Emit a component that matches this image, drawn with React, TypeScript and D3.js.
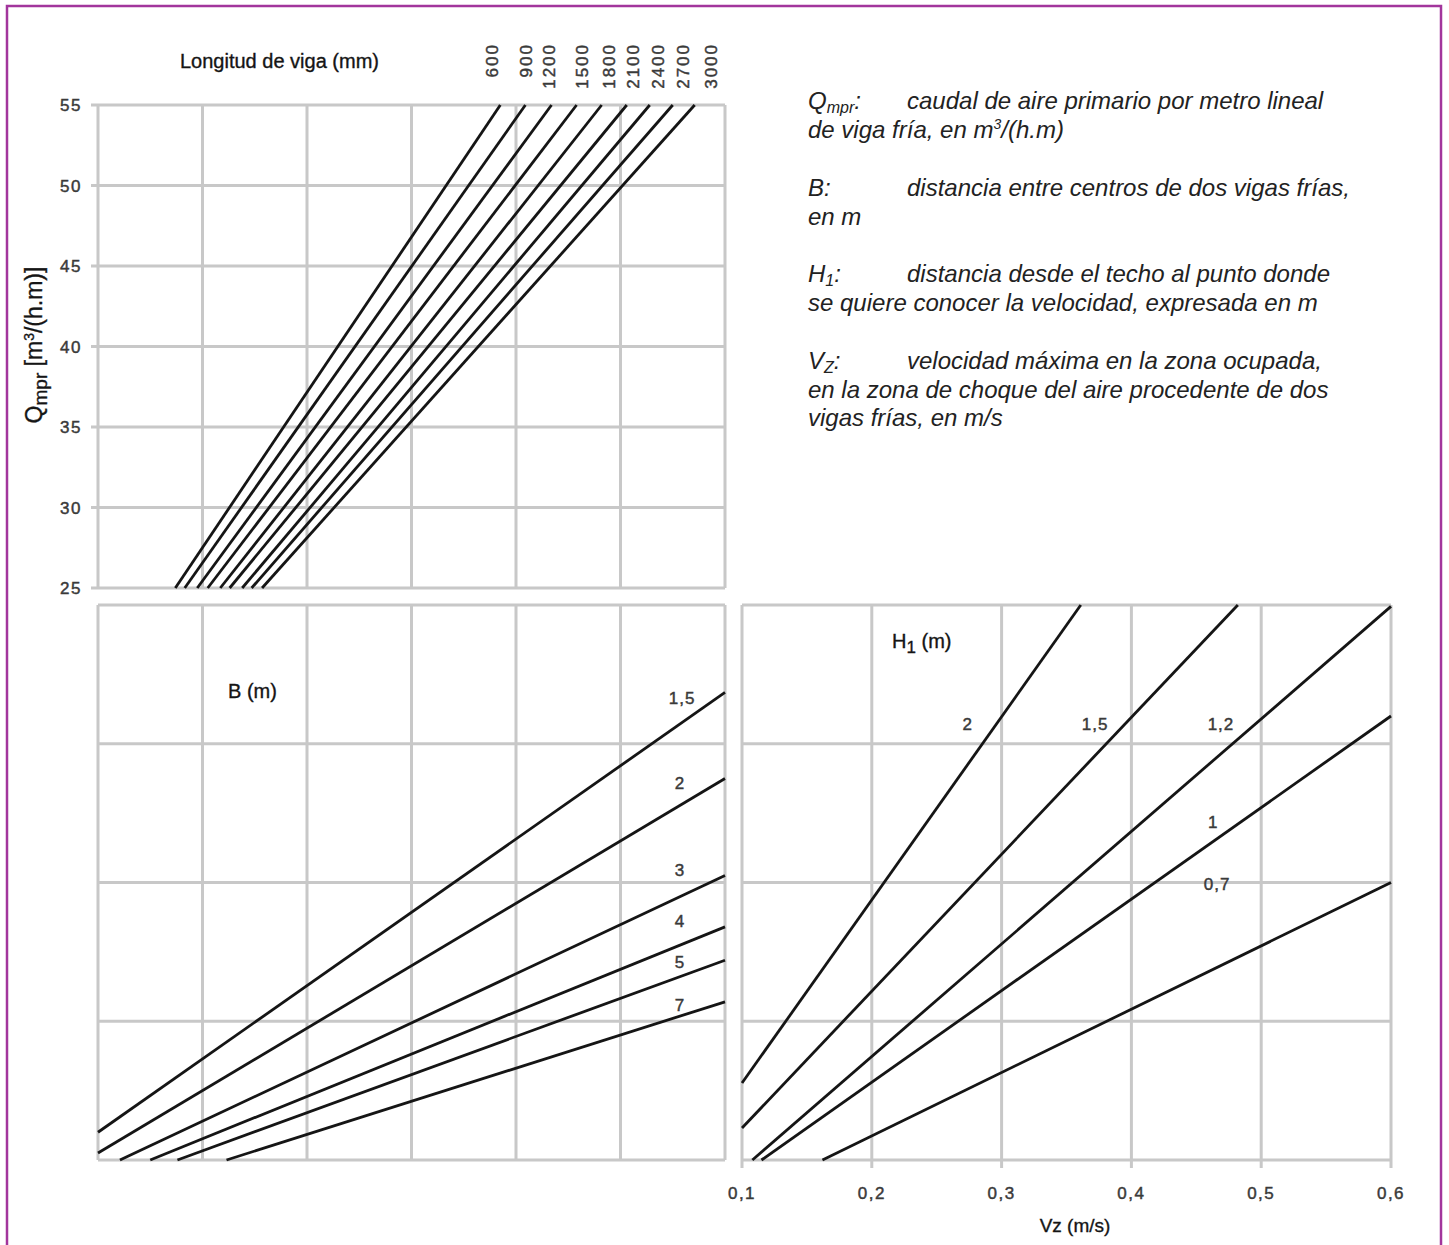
import React from 'react';
import * as d3 from 'd3';

// ---- Data ----
const beamLengths = ['600', '900', '1200', '1500', '1800', '2100', '2400', '2700', '3000'];
// x position (abstract grid units 0..6) of each beam-length line at Q = 25 and Q = 55
const lenXatQ25 = [0.74, 0.83, 0.95, 1.05, 1.17, 1.26, 1.38, 1.47, 1.57];
const lenXatQ55 = [3.85, 4.09, 4.34, 4.58, 4.82, 5.06, 5.28, 5.50, 5.71];
// where the rotated beam-length names sit (grid units)
const lenLabelX = [3.77, 4.10, 4.32, 4.63, 4.89, 5.12, 5.36, 5.60, 5.87];
const qTicks = [25, 30, 35, 40, 45, 50, 55];

const bNames = ['1,5', '2', '3', '4', '5', '7'];
const bStartX = [0, 0, 0.21, 0.5, 0.76, 1.23];
const bStartY = [0.2, 0.05, 0, 0, 0, 0];
const bEndX = [6, 6, 6, 6, 6, 6];
const bEndY = [3.37, 2.75, 2.05, 1.68, 1.44, 1.14];
const bLabelX = [5.59, 5.57, 5.57, 5.57, 5.57, 5.57];
const bLabelY = [3.33, 2.72, 2.09, 1.72, 1.43, 1.12];

const hNames = ['2', '1,5', '1,2', '1', '0,7'];
const hStartVz = [0.1, 0.1, 0.108, 0.115, 0.162];
const hStartY = [0.555, 0.23, 0, 0, 0];
const hEndVz = [0.361, 0.482, 0.6, 0.6, 0.6];
const hEndY = [4, 4, 3.99, 3.2, 2.0];
const hLabelVz = [0.274, 0.372, 0.469, 0.463, 0.466];
const hLabelY = [3.14, 3.14, 3.14, 2.44, 1.99];

const vzTicks = [0.1, 0.2, 0.3, 0.4, 0.5, 0.6];
const vzTickLabels = ['0,1', '0,2', '0,3', '0,4', '0,5', '0,6'];
const gridUnitsX = [0, 1, 2, 3, 4, 5, 6];
const gridUnitsY = [0, 1, 2, 3, 4];

const FONT = "'Liberation Sans', Arial, Helvetica, sans-serif";
const GRID = '#c8c8c8';
const INK = '#151515';
const NUM = '#3a3a3a';

export default function App() {
  const xL = d3.scaleLinear().domain([0, 6]).range([98, 725]);
  const yTop = d3.scaleLinear().domain([25, 55]).range([588, 105]);
  const yBot = d3.scaleLinear().domain([0, 4]).range([1160, 605]);
  const xR = d3.scaleLinear().domain([0.1, 0.6]).range([742, 1391]);

  const lineGen = d3.line<[number, number]>().x(d => d[0]).y(d => d[1]);

  const gridW = 3;
  const lineW = 2.8;
  const numStyle = { stroke: NUM, strokeWidth: 0.45 } as const;
  const titleStyle = { stroke: INK, strokeWidth: 0.35 } as const;

  return (
    <svg width={1449} height={1245} style={{ position: 'absolute', left: 0, top: 0, background: '#fff' }} fontFamily={FONT}>
      <rect x={0} y={0} width={1449} height={1245} fill="#fff" />
      {/* border */}
      <rect x={7} y={6} width={1434} height={1270} fill="none" stroke="#a2359c" strokeWidth={2.5} />

      {/* ===== Top chart ===== */}
      <g>
        {gridUnitsX.map(u => (
          <line key={'tv' + u} x1={xL(u)} x2={xL(u)} y1={yTop(55)} y2={yTop(25)} stroke={GRID} strokeWidth={gridW} />
        ))}
        {qTicks.map(q => (
          <line key={'th' + q} x1={xL(0) - 7} x2={xL(6)} y1={yTop(q)} y2={yTop(q)} stroke={GRID} strokeWidth={gridW} />
        ))}
        {qTicks.map(q => (
          <text key={'tl' + q} x={82} y={yTop(q)} dy="0.36em" textAnchor="end" fontSize={17} letterSpacing={1.5} fill={NUM} style={numStyle}>{q}</text>
        ))}
        {beamLengths.map((name, i) => (
          <path key={'bl' + name}
            d={lineGen([[xL(lenXatQ25[i]), yTop(25)], [xL(lenXatQ55[i]), yTop(55)]]) || ''}
            stroke={INK} strokeWidth={lineW} fill="none" />
        ))}
        {beamLengths.map((name, i) => (
          <text key={'bn' + name}
            transform={`translate(${xL(lenLabelX[i]) + 6},43) rotate(-90)`}
            textAnchor="end" fontSize={17} letterSpacing={2} fill={NUM} style={numStyle}>{name}</text>
        ))}
        <text x={180} y={68} fontSize={20} fill={INK} style={titleStyle}>Longitud de viga (mm)</text>
        <text transform="translate(42,345) rotate(-90)" textAnchor="middle" fontSize={23} fill={INK} style={titleStyle}>
          <tspan>Q</tspan>
          <tspan fontSize={19} dy={5}>mpr</tspan>
          <tspan dy={-5}> [m</tspan>
          <tspan fontSize={14} dy={-8}>3</tspan>
          <tspan dy={8}>/(h.m)]</tspan>
        </text>
      </g>

      {/* ===== Bottom-left chart (B) ===== */}
      <g>
        {gridUnitsX.map(u => (
          <line key={'lv' + u} x1={xL(u)} x2={xL(u)} y1={yBot(4)} y2={yBot(0)} stroke={GRID} strokeWidth={gridW} />
        ))}
        {gridUnitsY.map(u => (
          <line key={'lh' + u} x1={xL(0)} x2={xL(6)} y1={yBot(u)} y2={yBot(u)} stroke={GRID} strokeWidth={gridW} />
        ))}
        {bNames.map((name, i) => (
          <path key={'b' + name}
            d={lineGen([[xL(bStartX[i]), yBot(bStartY[i])], [xL(bEndX[i]), yBot(bEndY[i])]]) || ''}
            stroke={INK} strokeWidth={lineW} fill="none" />
        ))}
        {bNames.map((name, i) => (
          <text key={'bt' + name} x={xL(bLabelX[i])} y={yBot(bLabelY[i])} dy="0.36em" textAnchor="middle" fontSize={17} letterSpacing={1} fill={NUM} style={numStyle}>{name}</text>
        ))}
        <text x={228} y={698} fontSize={20} fill={INK} style={titleStyle}>B (m)</text>
      </g>

      {/* ===== Bottom-right chart (H1) ===== */}
      <g>
        {vzTicks.map(v => (
          <line key={'rv' + v} x1={xR(v)} x2={xR(v)} y1={yBot(4)} y2={yBot(0) + 8} stroke={GRID} strokeWidth={gridW} />
        ))}
        {gridUnitsY.map(u => (
          <line key={'rh' + u} x1={xR(0.1)} x2={xR(0.6)} y1={yBot(u)} y2={yBot(u)} stroke={GRID} strokeWidth={gridW} />
        ))}
        {hNames.map((name, i) => (
          <path key={'h' + name}
            d={lineGen([[xR(hStartVz[i]), yBot(hStartY[i])], [xR(hEndVz[i]), yBot(hEndY[i])]]) || ''}
            stroke={INK} strokeWidth={lineW} fill="none" />
        ))}
        {hNames.map((name, i) => (
          <text key={'ht' + name} x={xR(hLabelVz[i])} y={yBot(hLabelY[i])} dy="0.36em" textAnchor="middle" fontSize={17} letterSpacing={1} fill={NUM} style={numStyle}>{name}</text>
        ))}
        {vzTicks.map((v, i) => (
          <text key={'vt' + v} x={xR(v)} y={1199} textAnchor="middle" fontSize={17} letterSpacing={1.5} fill={NUM} style={numStyle}>{vzTickLabels[i]}</text>
        ))}
        <text x={1075} y={1232} textAnchor="middle" fontSize={19} fill={INK} style={titleStyle}>Vz (m/s)</text>
        <text x={892} y={648} fontSize={20} fill={INK} style={titleStyle}>
          <tspan>H</tspan>
          <tspan fontSize={17} dy={5}>1</tspan>
          <tspan dy={-5}> (m)</tspan>
        </text>
      </g>

      {/* ===== Legend ===== */}
      <g fontStyle="italic" fontSize={24} fill="#222">
        <text x={808} y={109}>
          <tspan>Q</tspan><tspan fontSize={16} dy={4}>mpr</tspan><tspan dy={-4}>:</tspan>
        </text>
        <text x={907} y={109}>caudal de aire primario por metro lineal</text>
        <text x={808} y={138}>
          <tspan>de viga fría, en m</tspan><tspan fontSize={14} dy={-9}>3</tspan><tspan dy={9}>/(h.m)</tspan>
        </text>
        <text x={808} y={196}>B:</text>
        <text x={907} y={196}>distancia entre centros de dos vigas frías,</text>
        <text x={808} y={225}>en m</text>
        <text x={808} y={282}>
          <tspan>H</tspan><tspan fontSize={16} dy={4}>1</tspan><tspan dy={-4}>:</tspan>
        </text>
        <text x={907} y={282}>distancia desde el techo al punto donde</text>
        <text x={808} y={311}>se quiere conocer la velocidad, expresada en m</text>
        <text x={808} y={369}>
          <tspan>V</tspan><tspan fontSize={16} dy={4}>Z</tspan><tspan dy={-4}>:</tspan>
        </text>
        <text x={907} y={369}>velocidad máxima en la zona ocupada,</text>
        <text x={808} y={398}>en la zona de choque del aire procedente de dos</text>
        <text x={808} y={426}>vigas frías, en m/s</text>
      </g>
    </svg>
  );
}
